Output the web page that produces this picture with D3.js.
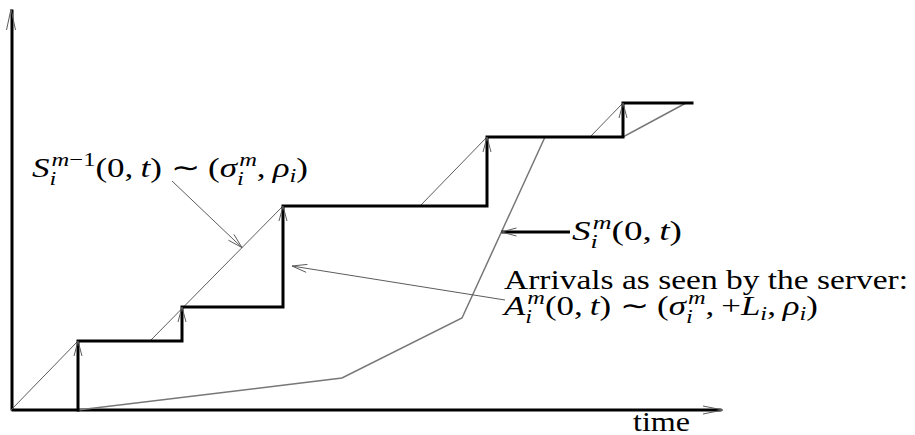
<!DOCTYPE html>
<html>
<head>
<meta charset="utf-8">
<script src="https://cdn.jsdelivr.net/npm/d3@7"></script>
<style>
  body { margin: 0; background: #fff; }
  svg { display: block; }
  svg text { font-family: "Liberation Serif", "Times New Roman", serif; white-space: pre; }
</style>
</head>
<body>
<svg id="chart" width="915" height="435"></svg>
<script>
// Service curve S_i^m: instants of each step and the level after it
const stepTimes = [67, 171, 272, 476, 612];
const stepLevels = [0, 69, 103, 204, 273, 307];
const endTime = 681;

// Upstream service S_i^{m-1}: corner points
const upstreamTimes = [0, 67, 139, 272, 409, 476, 579, 612, 681];
const upstreamAmounts = [0, 69, 69, 204, 204, 273, 273, 307, 307];

// Arrivals as seen by the server A_i^m: corner points
const arrivalTimes = [67, 331, 451, 534, 612, 675];
const arrivalAmounts = [0, 32, 92, 273, 273, 307];

// Label pointers (time, amount)
const upstreamPointerTail = [161, 229];
const upstreamPointerTime = 231;
const servicePointerTail = [559, 178];
const arrivalPointerTail = [494, 110];
const arrivalPointerTip = [281, 144];

// Texts
const axisLabel = "time";
const arrivalsCaption = "Arrivals as seen by the server:";
const upstreamLabel = [["S", "i", "m\u22121"], "(0,\u2009", "t", ") \u223c (", ["\u03c3", "i", "m"], ",\u2009", ["\u03c1", "i"], ")"];
const serviceLabel = [["S", "i", "m"], "(0,\u2009", "t", ")"];
const arrivalLabel = [["A", "i", "m"], "(0,\u2009", "t", ") \u223c (", ["\u03c3", "i", "m"], ",\u2009+", ["L", "i"], ",\u2009", ["\u03c1", "i"], ")"];

const svg = d3.select("#chart");
const x = d3.scaleLinear().domain([0, 700]).range([11, 711]);
const y = d3.scaleLinear().domain([0, 400]).range([410, 10]);

const INK = "#000";
const GRAY = "#5c5c5c";
const FS = 28;

const line = d3.line().x(d => x(d[0])).y(d => y(d[1]));

// open arrowhead: tip point, direction vector, length, half-width
function chevron(tip, dir, len, half, color) {
  const n = Math.hypot(dir[0], dir[1]);
  const ux = dir[0] / n, uy = dir[1] / n;
  const bx = tip[0] - ux * len, by = tip[1] - uy * len;
  const px = -uy * half, py = ux * half;
  svg.append("path")
    .attr("d", `M${bx + px},${by + py}L${tip[0]},${tip[1]}L${bx - px},${by - py}`)
    .attr("fill", "none").attr("stroke", color || GRAY).attr("stroke-width", 1);
}

// axes
const xAxisScale = d3.scaleLinear().domain([0, 710]).range([x(0), x(710)]);
const yAxisScale = d3.scaleLinear().domain([0, 401]).range([y(0), y(401)]);
const gx = svg.append("g").attr("transform", `translate(0,${y(0) - 0.5})`)
  .call(d3.axisBottom(xAxisScale).tickValues([]).tickSizeOuter(0));
const gy = svg.append("g").attr("transform", `translate(${x(0) + 0.5},0)`)
  .call(d3.axisLeft(yAxisScale).tickValues([]).tickSizeOuter(0));
[gx, gy].forEach(g => g.select(".domain").attr("stroke", INK).attr("stroke-width", 3));
chevron([x(712), y(0)], [1, 0], 20, 4);
chevron([x(0), y(401)], [0, -1], 21, 4.5);

// upstream service curve
svg.append("path").datum(d3.zip(upstreamTimes, upstreamAmounts))
  .attr("d", line).attr("fill", "none").attr("stroke", GRAY).attr("stroke-width", 1);

// arrival curve
svg.append("path").datum(d3.zip(arrivalTimes, arrivalAmounts))
  .attr("d", line).attr("fill", "none").attr("stroke", "#777").attr("stroke-width", 1.5);

// staircase service curve
const stairs = [[stepTimes[0], stepLevels[0]]]
  .concat(stepTimes.map((t, i) => [t, stepLevels[i + 1]]))
  .concat([[endTime, stepLevels[stepLevels.length - 1]]]);
svg.append("path").datum(stairs)
  .attr("d", d3.line().x(d => x(d[0])).y(d => y(d[1])).curve(d3.curveStepAfter))
  .attr("fill", "none").attr("stroke", INK).attr("stroke-width", 3)
  .attr("stroke-linejoin", "miter").attr("stroke-linecap", "square");

// arrowheads at the top of each step
stepTimes.forEach((t, i) => chevron([x(t), y(stepLevels[i + 1])], [0, -1], 15, 4));

// pointer for S^{m-1}: tip lies on the upstream curve
const upTip = [upstreamPointerTime, d3.scaleLinear().domain(upstreamTimes.slice(2, 4)).range(upstreamAmounts.slice(2, 4))(upstreamPointerTime)];
svg.append("path").datum([upstreamPointerTail, upTip]).attr("d", line)
  .attr("fill", "none").attr("stroke", GRAY).attr("stroke-width", 1);
chevron([x(upTip[0]), y(upTip[1])], [x(upTip[0]) - x(upstreamPointerTail[0]), y(upTip[1]) - y(upstreamPointerTail[1])], 15, 4);

// pointer for S^m: tip lies on the steep part of the arrival curve
const sTipTime = d3.scaleLinear().domain(arrivalAmounts.slice(2, 4)).range(arrivalTimes.slice(2, 4))(servicePointerTail[1]);
const sTip = [sTipTime, servicePointerTail[1]];
svg.append("path").datum([servicePointerTail, sTip]).attr("d", line)
  .attr("fill", "none").attr("stroke", INK).attr("stroke-width", 3);
chevron([x(sTip[0]), y(sTip[1])], [-1, 0], 15, 4);

// pointer for the arrivals caption
svg.append("path").datum([arrivalPointerTail, arrivalPointerTip]).attr("d", line)
  .attr("fill", "none").attr("stroke", GRAY).attr("stroke-width", 1);
chevron([x(arrivalPointerTip[0]), y(arrivalPointerTip[1])],
  [x(arrivalPointerTip[0]) - x(arrivalPointerTail[0]), y(arrivalPointerTip[1]) - y(arrivalPointerTail[1])], 15, 4);

// ---- text ----
const measurer = svg.append("text").attr("visibility", "hidden");
function textWidth(str, italic, size) {
  measurer.attr("font-size", size).attr("font-style", italic ? "italic" : "normal").text(str);
  return measurer.node().getComputedTextLength();
}
function splitRuns(str) {
  const out = [];
  for (const ch of str) {
    const it = /[A-Za-z\u03b1-\u03c9]/.test(ch);
    if (out.length && out[out.length - 1].it === it) out[out.length - 1].s += ch;
    else out.push({ s: ch, it });
  }
  return out;
}
function layoutRuns(str, x0, dy, size, pieces) {
  let cx = x0;
  for (const r of splitRuns(str)) {
    const w = textWidth(r.s, r.it, size);
    pieces.push({ s: r.s, it: r.it, size, x: cx, dy, w });
    cx += w;
  }
  return cx;
}
function layoutFormula(tokens, fs) {
  const pieces = [];
  let cx = 0;
  for (const tok of tokens) {
    if (typeof tok === "string") { cx = layoutRuns(tok, cx, 0, fs, pieces); continue; }
    const [base, sub, sup] = tok;
    cx = layoutRuns(base, cx, 0, fs, pieces);
    const ss = fs * 0.7;
    const ends = [cx];
    if (sup) ends.push(layoutRuns(sup, cx + fs * 0.06, -fs * 0.4, ss, pieces));
    if (sub) ends.push(layoutRuns(sub, cx, sup ? fs * 0.28 : fs * 0.18, ss, pieces));
    cx = Math.max(...ends);
  }
  return { pieces, width: cx };
}
// formula with stacked sub/superscripts; glyphs widened so the formula spans a given width
function mathLabel(tokens, x0, baseline, width) {
  const { pieces, width: natural } = layoutFormula(tokens, FS);
  const k = width / natural;
  const t = svg.append("text").attr("fill", INK);
  pieces.forEach(p => t.append("tspan")
    .attr("x", x0 + p.x * k).attr("y", baseline + p.dy)
    .attr("font-size", p.size).attr("font-style", p.it ? "italic" : "normal")
    .attr("textLength", p.w * k).attr("lengthAdjust", "spacingAndGlyphs")
    .text(p.s));
}

mathLabel(upstreamLabel, 32, 177, 276);
mathLabel(serviceLabel, 572, 240, 110);
mathLabel(arrivalLabel, 504, 315, 314);

svg.append("text").attr("x", 504).attr("y", 289)
  .attr("font-size", FS).attr("fill", INK)
  .attr("textLength", 404).attr("lengthAdjust", "spacingAndGlyphs")
  .text(arrivalsCaption);

svg.append("text").attr("x", 633).attr("y", 431)
  .attr("font-size", FS).attr("fill", INK)
  .attr("textLength", 57).attr("lengthAdjust", "spacingAndGlyphs")
  .text(axisLabel);

measurer.remove();
</script>
</body>
</html>
